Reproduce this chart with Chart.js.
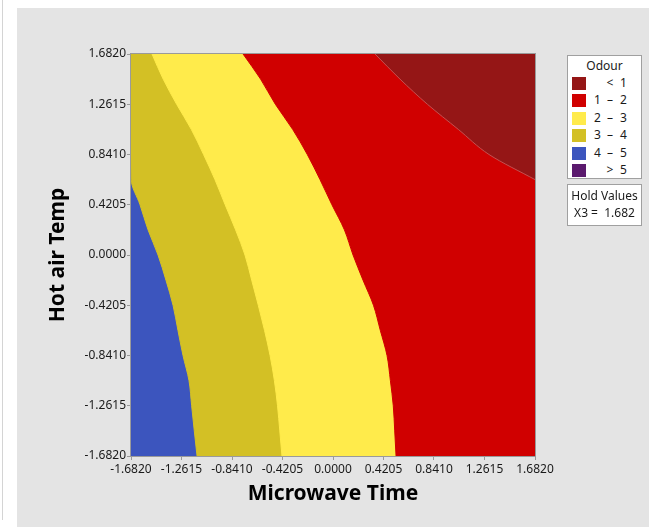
<!DOCTYPE html>
<html lang="en">
<head>
<meta charset="UTF-8">
<title>Contour Plot of Odour</title>
<script src="https://cdn.jsdelivr.net/npm/chart.js"></script>
<style>
  body { margin: 0; background: #fff; font-family: "Noto Sans", sans-serif; }
  #page { position: relative; width: 649px; height: 527px; overflow: hidden; }
  #rule { position: absolute; left: 2px; top: 0; width: 1px; height: 520px; background: #d4d4d4; }
  #panel { position: absolute; left: 17px; top: 8px; width: 632px; height: 519px; background: #e4e4e4; }
  #plot { position: absolute; left: 0; top: 0; }
  .box { position: absolute; left: 567px; width: 73px; background: #fff; border: 1px solid #a0a0a0; font-size: 12px; color: #1a1a1a; }
  .box .t { position: absolute; left: 0; width: 100%; text-align: center; white-space: pre; line-height: 14px; }
  .sw { position: absolute; left: 4px; width: 14px; height: 13px; }
  .lo, .mid, .hi { position: absolute; line-height: 14px; }
  .lo { left: 26px; }
  .mid { left: 38px; width: 8px; text-align: center; }
  .hi { left: 52px; }
</style>
</head>
<body>
<div id="page">
  <div id="rule"></div>
  <div id="panel"></div>
  <canvas id="plot" width="649" height="527"></canvas>
  <div class="box" id="legend" style="top:55px;height:122px;">
    <div class="t" style="top:3px;">Odour</div>
  </div>
  <div class="box" style="top:184px;height:40px;">
    <div class="t" style="top:4px;">Hold Values</div>
    <div class="t" style="top:21px;">X3 =  1.682</div>
  </div>
</div>
<script>
// axis ticks (coded levels)
const microwaveTicks = [-1.682, -1.2615, -0.841, -0.4205, 0, 0.4205, 0.841, 1.2615, 1.682];
const hotAirTicks = [-1.682, -1.2615, -0.841, -0.4205, 0, 0.4205, 0.841, 1.2615, 1.682];

// Hot air Temp levels where contour edges were read (bottom to top)
const hotAirLevels = [-1.682, -1.4718, -1.2615, -1.0513, -0.841, -0.6308, -0.4205, -0.2103, 0,
                      0.2103, 0.4205, 0.6308, 0.841, 1.0513, 1.2615, 1.4718, 1.682];

// Microwave Time of each contour edge at those levels
const edge45 = [-1.132, -1.155, -1.177, -1.199, -1.249, -1.291, -1.332, -1.391, -1.457,
                -1.540, -1.607, -1.680, -1.682, -1.682, -1.682, -1.682, -1.682];
const edge34 = [-0.425, -0.443, -0.462, -0.488, -0.524, -0.570, -0.622, -0.677, -0.733,
                -0.811, -0.898, -0.983, -1.078, -1.180, -1.302, -1.414, -1.507];
const edge23 = [0.525, 0.514, 0.502, 0.478, 0.450, 0.394, 0.337, 0.250, 0.167,
                0.095, -0.009, -0.108, -0.214, -0.336, -0.480, -0.603, -0.749];
// <1 edge only exists in the top right corner (last 6 levels)
const edge12 = [1.682, 1.299, 1.043, 0.786, 0.558, 0.350];

const odourBands = ['< 1', '1 – 2', '2 – 3', '3 – 4', '4 – 5', '> 5'];
const bandColors = ['#951616', '#d00000', '#ffeb4b', '#d3c025', '#3c55be', '#5b1a6e'];

const xMin = -1.682, xMax = 1.682;
const font = '"Noto Sans", sans-serif';

// html legend
const legend = document.getElementById('legend');
odourBands.forEach((lab, i) => {
  const top = 21 + i * 17.4;
  const parts = lab.split(' ');
  const cells = parts.length === 2 ? ['', parts[0], parts[1]] : parts;
  const sw = document.createElement('div');
  sw.className = 'sw';
  sw.style.top = top + 'px';
  sw.style.background = bandColors[i];
  legend.appendChild(sw);
  ['lo', 'mid', 'hi'].forEach((c, k) => {
    const s = document.createElement('div');
    s.className = c;
    s.style.top = (top - 1) + 'px';
    s.textContent = cells[k];
    legend.appendChild(s);
  });
});

function points(xs, ys) {
  return xs.map((x, i) => ({ x: x, y: ys[i] }));
}

function band(label, data, color, border) {
  return {
    label: label,
    data: data,
    fill: { value: xMax },
    backgroundColor: color,
    borderColor: border || color,
    borderWidth: 1,
    pointRadius: 0,
    cubicInterpolationMode: 'monotone'
  };
}

const frame = {
  id: 'frame',
  afterDatasetsDraw(chart) {
    const { ctx, chartArea: a } = chart;
    ctx.save();
    ctx.strokeStyle = '#9a9a9a';
    ctx.lineWidth = 1;
    ctx.strokeRect(a.left - 0.5, a.top - 0.5, a.right - a.left + 1, a.bottom - a.top + 1);
    ctx.restore();
  }
};

new Chart(document.getElementById('plot'), {
  type: 'line',
  data: {
    datasets: [
      band(odourBands[0], points(edge12, hotAirLevels.slice(hotAirLevels.length - edge12.length)), bandColors[0], '#c45050'),
      band(odourBands[1], points(edge23, hotAirLevels), bandColors[1]),
      band(odourBands[2], points(edge34, hotAirLevels), bandColors[2]),
      band(odourBands[3], points(edge45, hotAirLevels), bandColors[3]),
      band(odourBands[4], hotAirLevels.map(y => ({ x: xMin, y: y })), bandColors[4])
    ]
  },
  options: {
    responsive: false,
    animation: false,
    indexAxis: 'y',
    layout: { padding: { left: 45, top: 54, right: 114, bottom: 20 } },
    plugins: { legend: { display: false }, tooltip: { enabled: false } },
    scales: {
      x: {
        type: 'linear', position: 'bottom', min: xMin, max: xMax,
        afterBuildTicks: s => { s.ticks = microwaveTicks.map(v => ({ value: v })); },
        afterFit: s => { s.height = 51; },
        ticks: { callback: v => Number(v).toFixed(4), font: { family: font, size: 12 }, color: '#1a1a1a', padding: 2, maxRotation: 0, autoSkip: false },
        grid: { drawOnChartArea: false, tickLength: 4, color: '#9a9a9a' },
        border: { color: '#9a9a9a' },
        title: { display: true, text: 'Microwave Time', color: '#000', padding: 0, font: { family: font, size: 21, weight: 'bold' } }
      },
      y: {
        type: 'linear', position: 'left', min: -1.682, max: 1.682,
        afterBuildTicks: s => { s.ticks = hotAirTicks.map(v => ({ value: v })); },
        afterFit: s => { s.width = 86; },
        ticks: { callback: v => Number(v).toFixed(4), font: { family: font, size: 12 }, color: '#1a1a1a', padding: 1, autoSkip: false },
        grid: { drawOnChartArea: false, tickLength: 4, color: '#9a9a9a' },
        border: { color: '#9a9a9a' },
        title: { display: true, text: 'Hot air Temp', color: '#000', padding: 0, font: { family: font, size: 21, weight: 'bold' } }
      }
    }
  },
  plugins: [frame]
});
</script>
</body>
</html>
